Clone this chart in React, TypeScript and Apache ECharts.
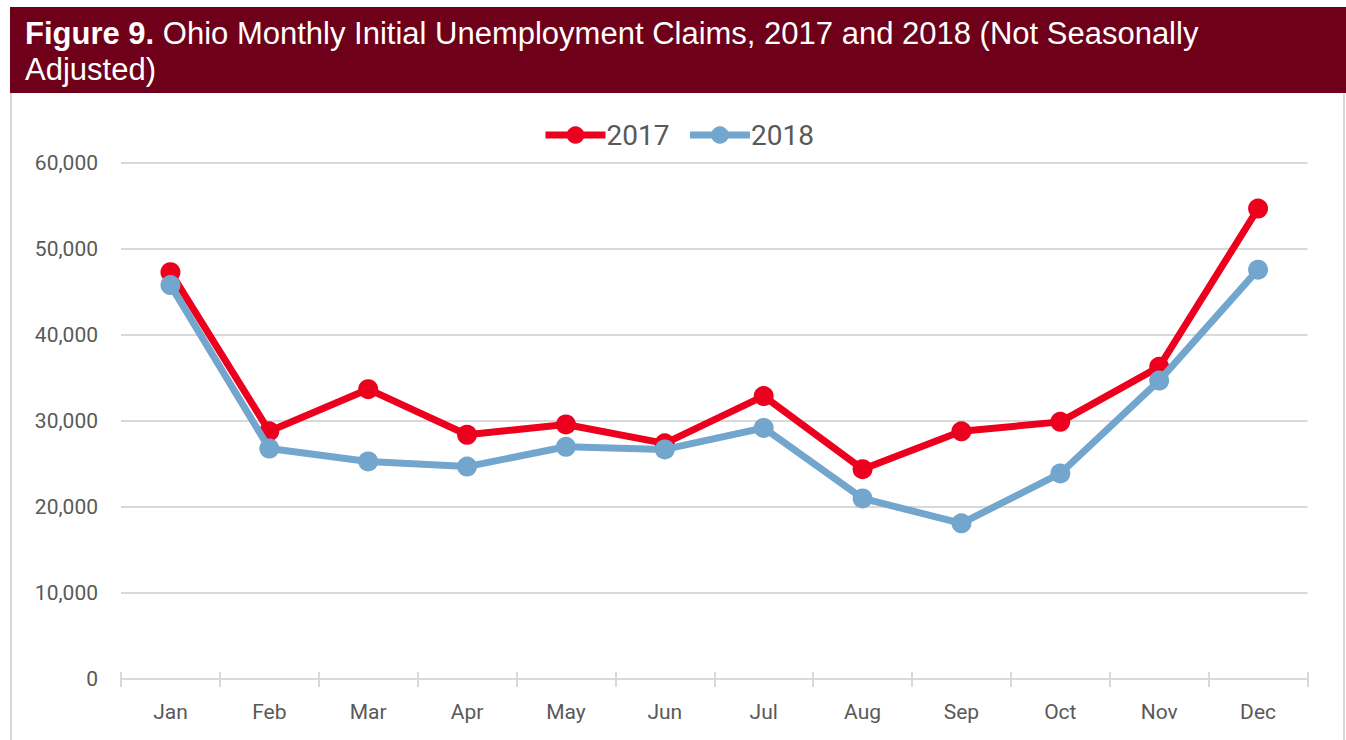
import React, { useEffect, useRef } from "react";
import * as echarts from "echarts";

const months = ["Jan", "Feb", "Mar", "Apr", "May", "Jun", "Jul", "Aug", "Sep", "Oct", "Nov", "Dec"];
const claims2017 = [47300, 28800, 33700, 28400, 29600, 27400, 32900, 24400, 28800, 29900, 36300, 54700];
const claims2018 = [45800, 26800, 25300, 24700, 27000, 26700, 29200, 21000, 18100, 23900, 34700, 47600];
const yTicks = { min: 0, max: 60000, interval: 10000 };

const RED = "#ec001e";
const BLUE = "#72a6cd";
const FONT = "Roboto, 'Liberation Sans', Arial, sans-serif";
const TFONT = "'Liberation Sans', Arial, sans-serif";

export default function App() {
  const ref = useRef<HTMLDivElement>(null);
  useEffect(() => {
    if (!ref.current) return;
    const chart = echarts.init(ref.current, undefined, { renderer: "svg" });
    const lineSeries = (name: string, data: number[], color: string) => ({
      name,
      type: "line",
      data,
      xAxisIndex: 0,
      yAxisIndex: 0,
      symbol: "circle",
      symbolSize: 20,
      itemStyle: { color },
      lineStyle: { color, width: 7 },
      z: name === "2018" ? 3 : 2,
    });
    chart.setOption({
      animation: false,
      backgroundColor: "#ffffff",
      textStyle: { fontFamily: FONT },
      graphic: [
        {
          type: "rect",
          shape: { x: 11, y: 92, width: 1333, height: 660 },
          style: { fill: "none", stroke: "#d9d9d9", lineWidth: 2 },
          z: 0,
        },
        {
          type: "rect",
          shape: { x: 10, y: 7, width: 1336, height: 86 },
          style: { fill: "#6e0019" },
          z: 1,
        },
        {
          type: "text",
          x: 25,
          y: 33,
          style: {
            text: "{b|Figure 9.}{n| Ohio Monthly Initial Unemployment Claims, 2017 and 2018 (Not Seasonally}",
            fill: "#ffffff",
            fontFamily: TFONT,
            fontSize: 31,
            verticalAlign: "middle",
            rich: {
              b: { fontWeight: "bold", fontSize: 31, fill: "#ffffff", fontFamily: TFONT },
              n: { fontWeight: "normal", fontSize: 31, fill: "#ffffff", fontFamily: TFONT },
            },
          },
          z: 2,
        },
        {
          type: "text",
          x: 25,
          y: 69.5,
          style: {
            text: "Adjusted)",
            fill: "#ffffff",
            fontFamily: TFONT,
            fontSize: 31,
            verticalAlign: "middle",
          },
          z: 2,
        },
      ],
      legend: {
        top: 116,
        left: 537,
        itemWidth: 60,
        itemHeight: 22,
        itemGap: 17,
        lineStyle: { width: 7 },
        textStyle: { fontSize: 28, color: "#595959", fontFamily: FONT, padding: [0, 0, 0, -4] },
        data: ["2017", "2018"],
      },
      grid: { left: 121, right: 38.5, top: 163, bottom: 61, containLabel: false },
      xAxis: [
        {
          type: "category",
          data: months,
          position: "bottom",
          boundaryGap: true,
          axisLine: { lineStyle: { color: "#d9d9d9", width: 2 } },
          axisTick: { show: true, length: 8, lineStyle: { color: "#d9d9d9", width: 2 } },
          axisLabel: { fontSize: 21, color: "#595959", margin: 22, fontFamily: FONT },
        },
        {
          type: "category",
          data: months,
          position: "bottom",
          boundaryGap: true,
          axisLine: { show: false },
          axisTick: { show: true, inside: true, length: 7, lineStyle: { color: "#d9d9d9", width: 2 } },
          axisLabel: { show: false },
        },
      ],
      yAxis: {
        type: "value",
        min: yTicks.min,
        max: yTicks.max,
        interval: yTicks.interval,
        axisLine: { show: false },
        axisTick: { show: false },
        splitLine: { lineStyle: { color: "#d9d9d9", width: 2 } },
        axisLabel: {
          fontSize: 21,
          color: "#595959",
          margin: 23,
          fontFamily: FONT,
          formatter: (v: number) => v.toLocaleString("en-US"),
        },
      },
      series: [lineSeries("2017", claims2017, RED), lineSeries("2018", claims2018, BLUE)],
    });
    return () => chart.dispose();
  }, []);
  return <div ref={ref} style={{ position: "fixed", left: 0, top: 0, width: 1346, height: 740 }} />;
}
